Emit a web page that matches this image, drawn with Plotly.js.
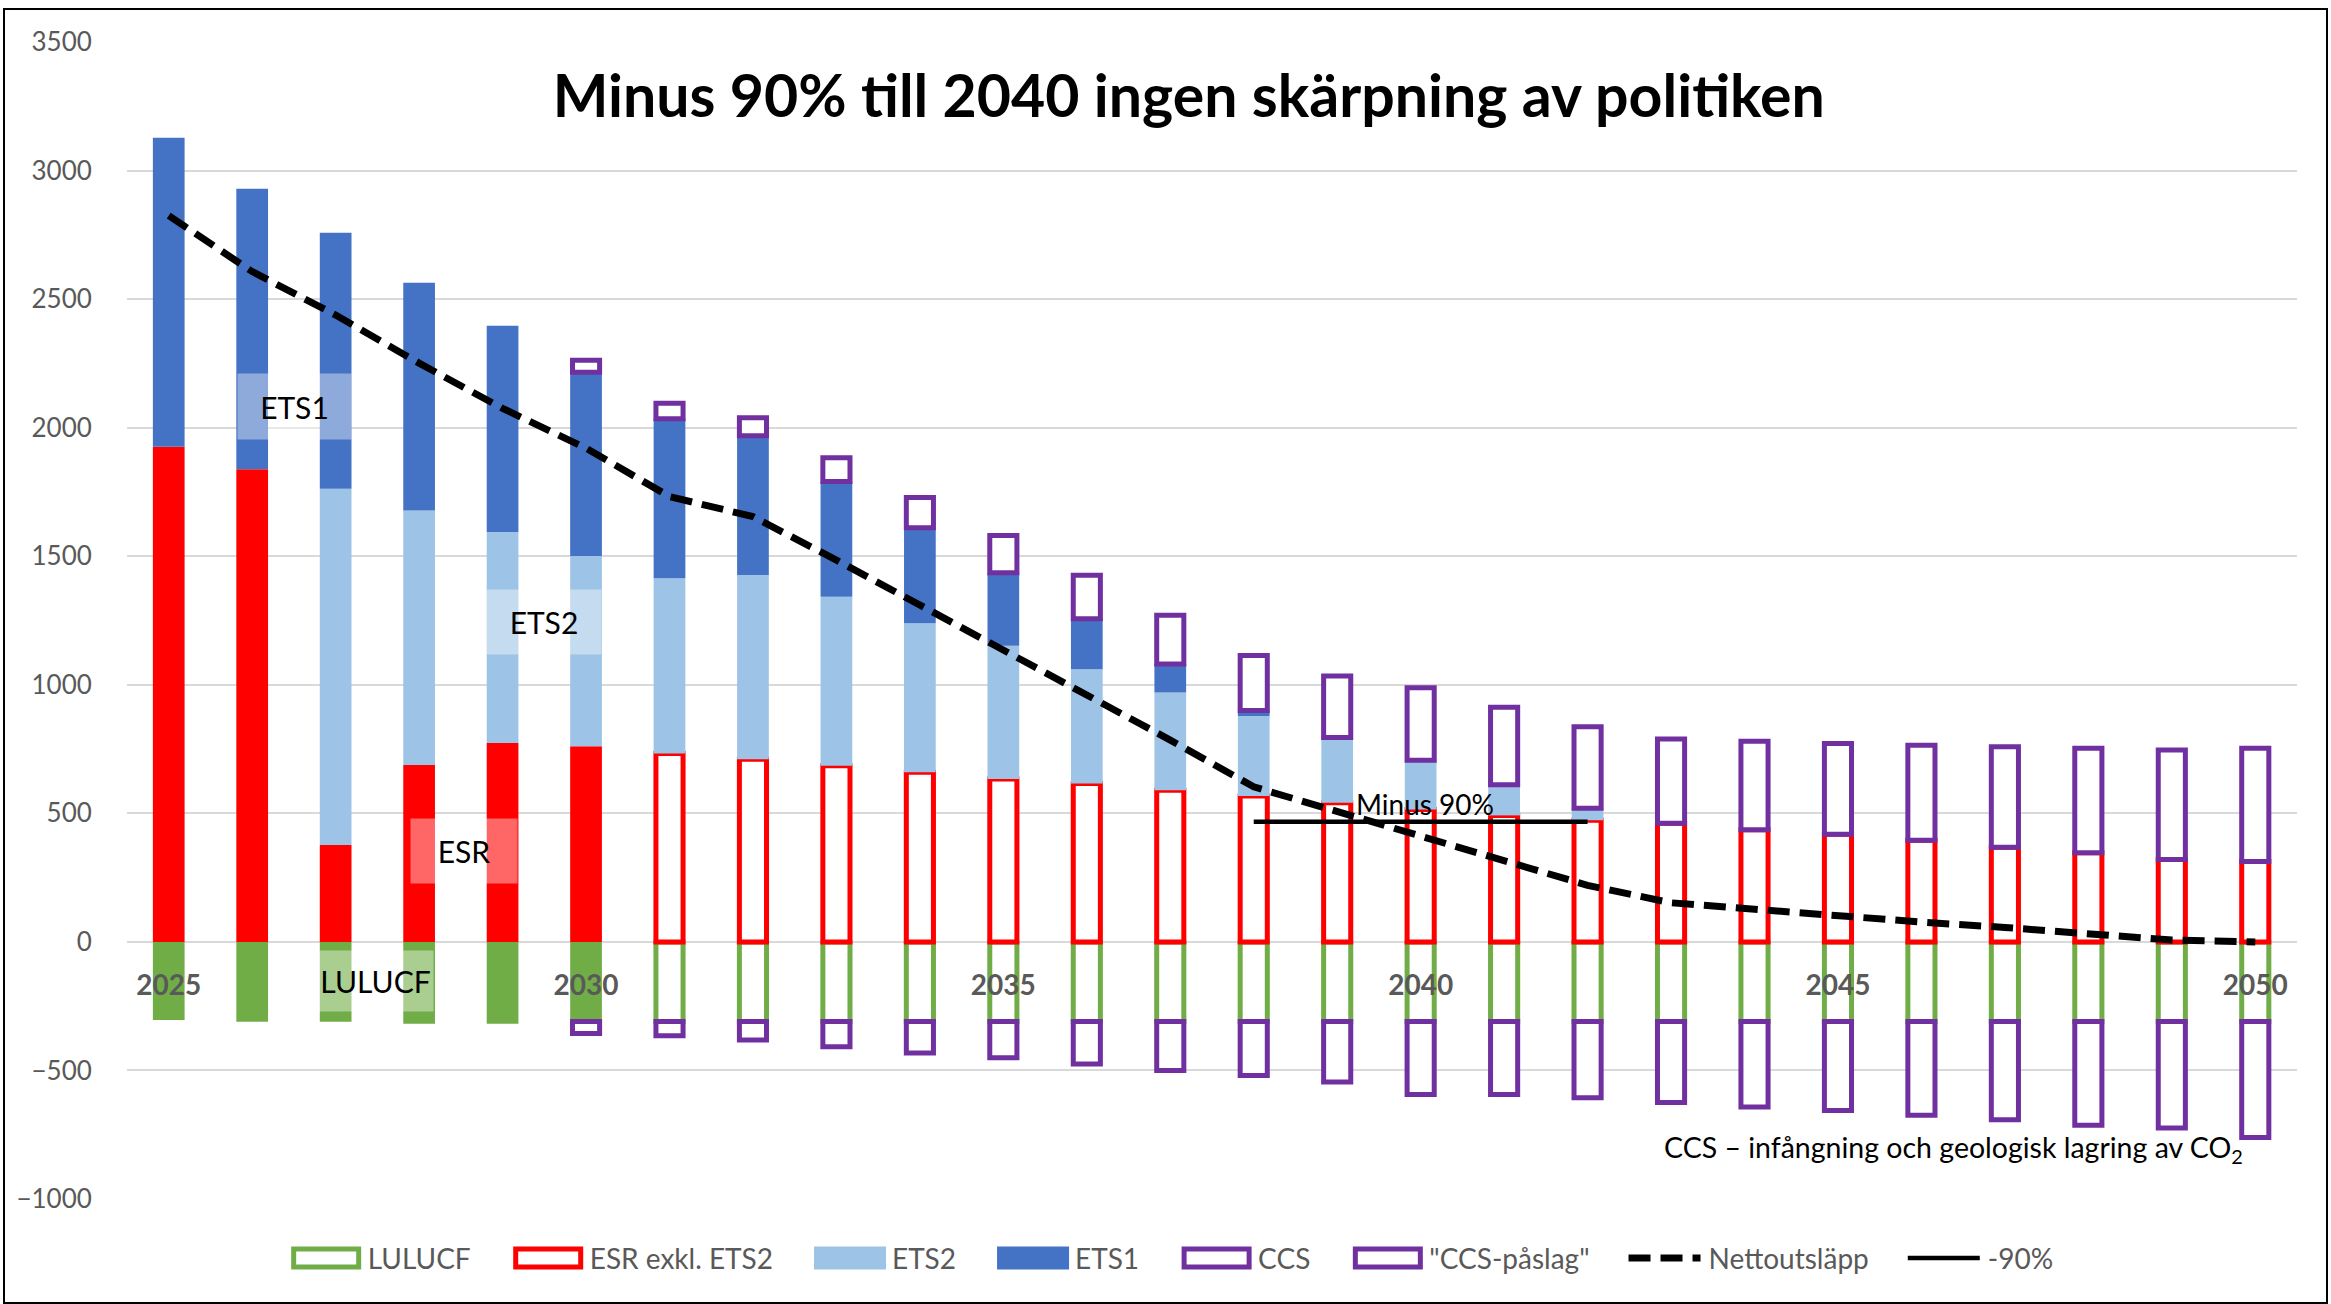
<!DOCTYPE html>
<html>
<head>
<meta charset="utf-8">
<script src="https://cdn.plot.ly/plotly-3.0.1.min.js"></script>
<style>
  html, body { margin: 0; padding: 0; background: #fff; }
  #wrap { position: relative; width: 2331px; height: 1304px; }
  #chart { position: absolute; left: 0; top: 0; width: 2331px; height: 1304px; }
  #frame { position: absolute; left: 3px; top: 8px; width: 2325px; height: 1296px;
           border: 2px solid #000; box-sizing: border-box; pointer-events: none; }
</style>
</head>
<body>
<div id="wrap"><div id="chart"></div><div id="frame"></div></div>
<script>
// ---- data ----
const years = [2025,2026,2027,2028,2029,2030,2031,2032,2033,2034,2035,2036,2037,2038,2039,2040,2041,2042,2043,2044,2045,2046,2047,2048,2049,2050];
const lulucf = [-304,-311,-311,-318,-318,-310,-310,-310,-310,-310,-310,-310,-310,-310,-310,-310,-310,-310,-310,-310,-310,-310,-310,-310,-310,-310];
const esr    = [1926,1838,377,688,774,761,733,710,685,660,634,616,590,567,541,515,492,473,461,436,419,395,368,347,320,313];
const ets2   = [0,0,1385,990,820,740,681,717,657,579,518,444,380,312,254,191,119,47,0,0,0,0,0,0,0,0];
const ets1   = [1202,1091,996,886,802,715,621,542,449,372,284,197,111,21,0,0,0,0,0,0,0,0,0,0,0,0];
const ccs    = [0,0,0,0,0,-46,-55,-72,-98,-122,-141,-165,-190,-210,-235,-284,-284,-296,-315,-332,-346,-364,-382,-403,-414,-451];
const ccsPaslag = [0,0,0,0,0,46,60,70,92,117,145,169,189,214,239,282,302,317,328,344,353,370,391,406,426,440];
const netto  = [2825,2607,2438,2251,2075,1920,1732,1654,1485,1310,1142,960,785,603,506,415,311,220,152,125,102,77,56,32,7,0];
const minus90Years  = [2038, 2042];
const minus90Values = [467, 467];
const tickYears = [2025,2030,2035,2040,2045,2050];
const firstOutlinedYear = 2031;   // LULUCF and ESR are drawn as outlines from this year on

// ---- helpers ----
const nz = arr => arr.map(v => (v === 0 ? null : v));
const filledPart   = arr => arr.map((v, i) => (years[i] <  firstOutlinedYear ? v : null));
const outlinedPart = arr => arr.map((v, i) => (years[i] >= firstOutlinedYear ? v : null));

const GREEN = '#70AD47', RED = '#FF0000', LBLUE = '#9DC3E6', BLUE = '#4472C4', PURPLE = '#7030A0';
const FILLW = 0.38, OUTW = 0.325, OUTLINE = 5;
const FONT = 'Lato, "Open Sans", sans-serif';

function filledBar(name, y, color, show) {
  return { type: 'bar', name: name, x: years, y: y, width: FILLW, showlegend: show,
           marker: { color: color, line: { width: 0 } }, hoverinfo: 'x+y+name' };
}
function outlinedBar(name, y, color, show) {
  return { type: 'bar', name: name, x: years, y: y, width: OUTW, showlegend: show,
           marker: { color: '#FFFFFF', line: { color: color, width: OUTLINE } }, hoverinfo: 'x+y+name' };
}

const traces = [
  filledBar('LULUCF', filledPart(lulucf), GREEN, false),
  outlinedBar('LULUCF', outlinedPart(lulucf), GREEN, true),
  filledBar('ESR exkl. ETS2', filledPart(esr), RED, false),
  outlinedBar('ESR exkl. ETS2', outlinedPart(esr), RED, true),
  filledBar('ETS2', nz(ets2), LBLUE, true),
  filledBar('ETS1', nz(ets1), BLUE, true),
  outlinedBar('CCS', nz(ccs), PURPLE, true),
  outlinedBar('"CCS-påslag"', nz(ccsPaslag), PURPLE, true),
  { type: 'scatter', mode: 'lines', name: 'Nettoutsläpp', x: years, y: netto,
    line: { color: '#000', width: 7, dash: '22px,10px' } },
  { type: 'scatter', mode: 'lines', name: '-90%', x: minus90Years, y: minus90Values,
    line: { color: '#000', width: 4.5 } }
];

const boxFill = 'rgba(255,255,255,0.4)';
function labelBox(text, x, y, w, h) {
  return { x: x, y: y, xref: 'x', yref: 'y', text: text, showarrow: false,
           width: w, height: h, bgcolor: boxFill, borderpad: 0,
           font: { family: FONT, size: 30, color: '#000' } };
}

const layout = {
  width: 2331, height: 1304,
  paper_bgcolor: '#fff', plot_bgcolor: '#fff',
  margin: { l: 127, r: 34, t: 42, b: 105 },
  barmode: 'relative',
  title: { text: '<b>Minus 90% till 2040 ingen skärpning av politiken</b>',
           font: { family: FONT, size: 59, color: '#000' },
           xref: 'container', x: 0.510, xanchor: 'center',
           yref: 'container', y: 0.926, yanchor: 'middle' },
  xaxis: { range: [2024.5, 2050.5], tickvals: tickYears, ticktext: tickYears.map(y => '<b>' + y + '</b>'),
           anchor: 'free', position: 1000 / 4500, showgrid: false, zeroline: false, showline: false,
           ticks: 'outside', ticklen: 19, tickcolor: 'rgba(0,0,0,0)',
           tickfont: { family: FONT, size: 28, color: '#595959' } },
  yaxis: { range: [-1000, 3500], dtick: 500, showgrid: true, gridcolor: '#D9D9D9', gridwidth: 2,
           zeroline: true, zerolinecolor: '#D9D9D9', zerolinewidth: 2, showline: false,
           ticks: 'outside', ticklen: 29, tickcolor: 'rgba(0,0,0,0)',
           tickfont: { family: FONT, size: 26, color: '#595959' } },
  legend: { orientation: 'h', xref: 'container', x: 0.496, xanchor: 'center',
            yref: 'container', y: 0.035, yanchor: 'middle', itemwidth: 104,
            font: { family: FONT, size: 28, color: '#595959' }, traceorder: 'normal' },
  annotations: [
    labelBox('ETS1', 2026.51, 2081, 113, 65),
    labelBox('ETS2', 2029.5, 1244, 114, 64),
    labelBox('ESR', 2028.54, 353, 106, 64),
    labelBox('LULUCF', 2027.48, -153, 115, 60),
    { x: 2040.05, y: 467, xref: 'x', yref: 'y', text: 'Minus 90%', showarrow: false,
      xanchor: 'center', yanchor: 'bottom', borderpad: 0,
      font: { family: FONT, size: 28, color: '#000' } },
    { x: 2046.38, y: -807, xref: 'x', yref: 'y', showarrow: false,
      text: 'CCS – infångning och geologisk lagring av CO<sub>2</sub>',
      xanchor: 'center', yanchor: 'middle',
      font: { family: FONT, size: 28.5, color: '#000' } }
  ]
};

// Legend keys in the reference are wide rectangles (about 70 x 23 px) placed just before the text.
function widenLegendKeys(gd) {
  gd.querySelectorAll('.legend g.traces').forEach(g => {
    const text = g.querySelector('text.legendtext');
    if (!text) return;
    const T = parseFloat(text.getAttribute('x')) || 0;
    g.querySelectorAll('g.legendpoints path').forEach(p => {
      const hasStroke = p.style.stroke && p.style.stroke !== 'none' &&
                        parseFloat(p.style.strokeWidth || '0') > 0;
      p.removeAttribute('transform');
      if (hasStroke) {
        p.setAttribute('d', `M${T - 74},-9H${T - 9}V9H${T - 74}Z`);
        p.style.strokeWidth = '5px';
      } else {
        p.setAttribute('d', `M${T - 78},-11.5H${T - 6}V11.5H${T - 78}Z`);
      }
    });
    g.querySelectorAll('path.js-line').forEach(p => {
      p.setAttribute('d', `M${T - 80},0h72`);
    });
  });
}

Plotly.newPlot('chart', traces, layout, { staticPlot: true }).then(widenLegendKeys);
</script>
</body>
</html>
